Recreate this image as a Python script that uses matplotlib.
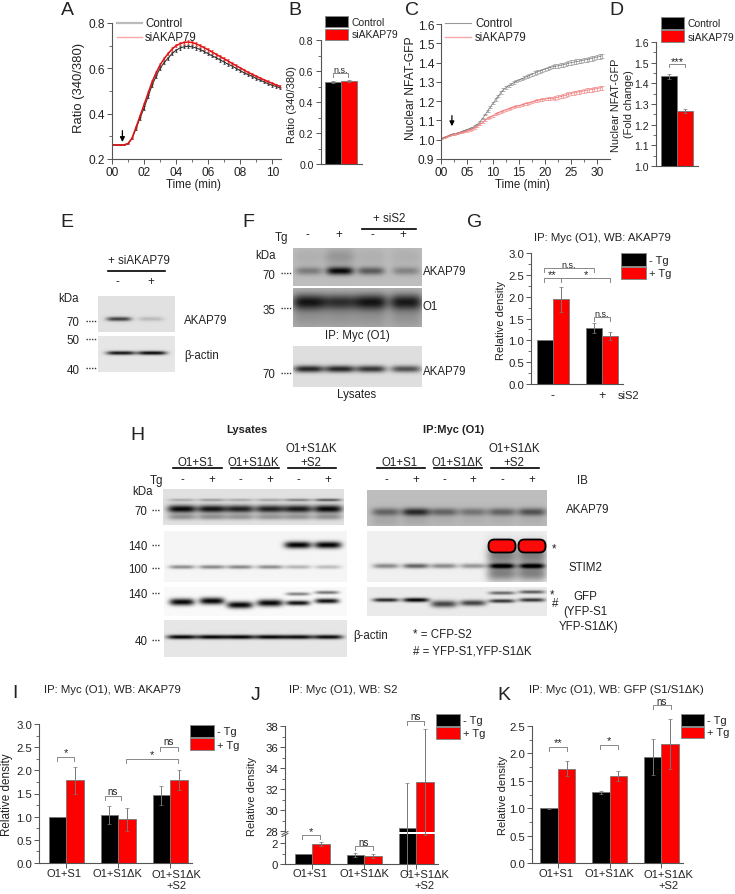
import numpy as np
import matplotlib
matplotlib.use("Agg")
import matplotlib.pyplot as plt
from matplotlib.patches import Rectangle, FancyBboxPatch

plt.rcParams["font.family"] = ["Liberation Sans", "DejaVu Sans"]
plt.rcParams["axes.linewidth"] = 0.8
plt.rcParams["axes.edgecolor"] = "#555555"
plt.rcParams["xtick.color"] = "#555555"
plt.rcParams["ytick.color"] = "#555555"
plt.rcParams["xtick.labelcolor"] = "#222222"
plt.rcParams["ytick.labelcolor"] = "#222222"
plt.rcParams["text.color"] = "#222222"

W, H = 735, 895

# panel A
a_time = [i * 0.25 for i in range(43)]
a_ctrl = [.262, .262, .262, .262, .268, .29, .335, .38, .425, .475, .525, .565, .60, .625, .645, .665,
          .68, .69, .695, .697, .695, .69, .683, .674, .665, .655, .647, .637, .628, .618, .61, .60,
          .59, .58, .572, .565, .555, .548, .54, .532, .525, .52, .513]
a_si = [.262, .262, .262, .262, .268, .292, .34, .39, .44, .49, .54, .58, .615, .642, .665, .685,
        .70, .709, .714, .716, .714, .708, .70, .691, .682, .672, .662, .652, .642, .632, .622, .612,
        .602, .592, .582, .574, .565, .557, .549, .541, .534, .527, .52]
a_ctrl_err = [.001, .001, .001, .001, .001, .003, .005, .006, .007, .007, .007, .007, .007, .007, .007, .007,
              .007, .007, .007, .007, .007, .007, .007, .007, .007, .007, .007, .007, .007, .007, .007, .007,
              .006, .006, .006, .006, .006, .006, .006, .006, .006, .006, .006]
a_si_err = [.001, .001, .001, .001, .001, .003, .005, .006, .007, .008, .008, .008, .008, .008, .008, .008,
            .008, .008, .008, .008, .008, .008, .008, .008, .008, .008, .007, .007, .007, .007, .007, .007,
            .006, .006, .006, .006, .006, .006, .006, .006, .006, .006, .006]

# panel B
b_vals = [.53, .535]
b_errs = [.005, .006]

# panel C
c_time = [i * 0.5 for i in range(63)]
c_ctrl = [1.005, 1.01, 1.015, 1.022, 1.028, 1.03, 1.033, 1.037, 1.042, 1.048, 1.053, 1.058, 1.063, 1.07, 1.08, 1.093,
          1.11, 1.13, 1.15, 1.17, 1.19, 1.208, 1.226, 1.245, 1.26, 1.27, 1.28, 1.288, 1.296, 1.303, 1.31, 1.316,
          1.321, 1.327, 1.333, 1.34, 1.346, 1.351, 1.356, 1.361, 1.366, 1.37, 1.375, 1.378, 1.381, 1.383, 1.386,
          1.389, 1.392, 1.396, 1.4, 1.402, 1.405, 1.407, 1.41, 1.413, 1.415, 1.418, 1.421, 1.425, 1.428, 1.431, 1.435]
c_si = [1.005, 1.01, 1.015, 1.02, 1.027, 1.03, 1.034, 1.037, 1.04, 1.042, 1.045, 1.05, 1.055, 1.062, 1.07, 1.08,
        1.09, 1.102, 1.112, 1.118, 1.125, 1.133, 1.14, 1.146, 1.151, 1.156, 1.16, 1.165, 1.17, 1.173, 1.176, 1.181,
        1.185, 1.188, 1.191, 1.196, 1.2, 1.203, 1.206, 1.209, 1.21, 1.213, 1.214, 1.215, 1.216, 1.22, 1.224,
        1.227, 1.23, 1.235, 1.24, 1.243, 1.245, 1.248, 1.25, 1.253, 1.256, 1.258, 1.26, 1.263, 1.265, 1.268, 1.27]
c_ctrl_err = [.003] * 12 + [.004] * 8 + [.006] * 12 + [.008] * 12 + [.011] * 19
c_si_err = [.003] * 12 + [.005] * 8 + [.005] * 12 + [.006] * 12 + [.01] * 19

# panel D
d_vals = [1.435, 1.268]
d_errs = [.012, .01]

# panel G
g_ctrl = [1.0, 1.28]
g_tg = [1.94, 1.1]
g_ctrl_err = [0, .12]
g_tg_err = [.28, .1]

# panel I
i_ctrl = [1.0, 1.04, 1.46]
i_tg = [1.79, .94, 1.79]
i_ctrl_err = [0, .2, .21]
i_tg_err = [.29, .25, .22]

# panel J
j_ctrl = [1.0, .85, 28.3]
j_tg = [1.9, .78, 32.7]
j_ctrl_err = [0, .2, 4.3]
j_tg_err = [.2, .2, 5.0]

# panel K
k_ctrl = [1.0, 1.29, 1.93]
k_tg = [1.72, 1.59, 2.17]
k_ctrl_err = [.01, .03, .33]
k_tg_err = [.14, .09, .46]

group_labels = ["O1+S1", "O1+S1\u0394K", "O1+S1\u0394K\n+S2"]

BAR_EDGE = "#777777"
ERR = "#777777"

fig = plt.figure(figsize=(W / 100, H / 100), dpi=100)


def panel(left, right, top, bottom, size=8.6):
    ax = fig.add_axes([left / W, 1 - bottom / H, (right - left) / W, (bottom - top) / H])
    ax.spines["top"].set_visible(False)
    ax.spines["right"].set_visible(False)
    ax.patch.set_alpha(0)
    ax.tick_params(which="major", length=3.5, width=0.7, labelsize=size, pad=1.5)
    ax.tick_params(which="minor", length=2, width=0.6)
    return ax


def err(ax, x, y, e):
    ebar = ax.errorbar(x, y, yerr=e, fmt="none", ecolor=ERR, elinewidth=0.7, capsize=1.2, capthick=0.5)
    for part in list(ebar[1]) + list(ebar[2]):
        part.set_clip_on(False)


def grouped(ax, ctrl, tg, ctrl_err, tg_err, width=0.336, errors=True):
    x = np.arange(len(ctrl))
    ax.bar(x - width / 2, ctrl, width, color="black", edgecolor=BAR_EDGE, linewidth=0.6)
    ax.bar(x + width / 2, tg, width, color="red", edgecolor=BAR_EDGE, linewidth=0.6)
    if errors:
        err(ax, x - width / 2, ctrl, ctrl_err)
        err(ax, x + width / 2, tg, tg_err)
    ax.set_xticks(x)
    ax.set_xticklabels([])


# A
ax = panel(112, 281, 24, 160)
ax.errorbar(a_time, a_ctrl, yerr=a_ctrl_err, color="#333333", lw=0.8, ecolor="#444444", elinewidth=0.9, capsize=1, capthick=0.6)
ax.errorbar(a_time, a_si, yerr=a_si_err, color="#e01010", lw=1.1, ecolor="#ee5050", elinewidth=0.9, capsize=1, capthick=0.6)
ax.set_xlim(0, 10.55)
ax.set_ylim(.2, .8)
ax.set_xticks(range(0, 11, 2))
ax.set_xticklabels(["00", "02", "04", "06", "08", "10"])
ax.set_xticks(range(1, 11, 2), minor=True)
ax.set_yticks([.2, .4, .6, .8])
ax.set_yticks([.3, .5, .7], minor=True)
ax.annotate("", xy=(.65, .275), xytext=(.65, .325), arrowprops=dict(arrowstyle="-|>", color="black", lw=0.9, mutation_scale=7, shrinkA=0, shrinkB=0))

# B
ax = panel(320.5, 362, 41, 165, 7.6)
ax.bar([0, 1], b_vals, 1, color=["black", "red"], edgecolor=BAR_EDGE, linewidth=0.6)
err(ax, [0, 1], b_vals, b_errs)
ax.set_xlim(-.78, 1.81)
ax.set_ylim(0, .8)
ax.set_xticks([])
ax.set_yticks([0, .2, .4, .6, .8])
ax.set_yticklabels(["0.0", "0.2", "0.4", "0.6", "0.8"])
ax.set_yticks([.1, .3, .5, .7], minor=True)

# C
ax = panel(441, 610, 25, 160)
ax.errorbar(c_time, c_ctrl, yerr=c_ctrl_err, color="#777777", lw=0.5, ecolor="#999999", elinewidth=0.5, capsize=1.3, capthick=0.5)
ax.errorbar(c_time, c_si, yerr=c_si_err, color="#f07070", lw=0.5, ecolor="#f59090", elinewidth=0.5, capsize=1.3, capthick=0.5)
ax.set_xlim(0, 32.5)
ax.set_ylim(.9, 1.6)
ax.set_xticks(range(0, 31, 5))
ax.set_xticklabels(["00", "05", "10", "15", "20", "25", "30"])
ax.set_yticks(np.arange(.9, 1.61, .1))
ax.set_xticks(np.arange(2.5, 31, 5), minor=True)
ax.annotate("", xy=(2.1, 1.07), xytext=(2.1, 1.125), arrowprops=dict(arrowstyle="-|>", color="black", lw=0.9, mutation_scale=7, shrinkA=0, shrinkB=0))

# D
ax = panel(656, 698, 43, 167, 7.6)
ax.bar([0, 1], d_vals, 1, color=["black", "red"], edgecolor=BAR_EDGE, linewidth=0.6)
err(ax, [0, 1], d_vals, d_errs)
ax.set_xlim(-.81, 1.81)
ax.set_ylim(1.0, 1.6)
ax.set_xticks([])
ax.set_yticks(np.arange(1.0, 1.61, .1))
ax.set_yticks(np.arange(1.05, 1.6, .1), minor=True)

# G
ax = panel(531, 623, 254, 385, 8.2)
grouped(ax, g_ctrl, g_tg, g_ctrl_err, g_tg_err)
ax.set_xlim(-.45, 1.43)
ax.set_ylim(0, 3)
ax.set_xticks([])
ax.set_yticks(np.arange(0, 3.1, .5))
ax.set_yticks(np.arange(.25, 3, .5), minor=True)

# I
ax = panel(39, 192, 725, 864, 8.2)
grouped(ax, i_ctrl, i_tg, i_ctrl_err, i_tg_err)
ax.set_xlim(-.52, 2.42)
ax.set_ylim(0, 3)
ax.set_yticks(np.arange(0, 3.1, .5))
ax.set_yticks(np.arange(.25, 3, .5), minor=True)

# J, broken axis
low = panel(285, 438, 835, 865, 8.2)
grouped(low, j_ctrl, j_tg, j_ctrl_err, j_tg_err, errors=False)
x_j = np.arange(2)
err(low, x_j - .168, j_ctrl[:2], j_ctrl_err[:2])
err(low, x_j + .168, j_tg[:2], j_tg_err[:2])
low.set_xlim(-.52, 2.42)
low.set_ylim(0, 2.86)
low.set_yticks([0, 2])
low.set_yticks([1], minor=True)
up = panel(285, 438, 727, 833, 8.2)
grouped(up, j_ctrl, j_tg, j_ctrl_err, j_tg_err, errors=False)
err(up, [2 - .168], [j_ctrl[2]], [j_ctrl_err[2]])
err(up, [2 + .168], [j_tg[2]], [j_tg_err[2]])
up.set_xlim(-.52, 2.42)
up.set_ylim(27.95, 38)
up.set_xticks([])
up.spines["bottom"].set_visible(False)
up.set_yticks(range(28, 39, 2))
up.set_yticks(range(29, 38, 2), minor=True)

# K
ax = panel(532, 683, 727, 864, 8.2)
grouped(ax, k_ctrl, k_tg, k_ctrl_err, k_tg_err)
ax.set_xlim(-.5, 2.42)
ax.set_ylim(0, 2.5)
ax.set_yticks(np.arange(0, 2.6, .5))
ax.set_yticks(np.arange(.25, 2.5, .5), minor=True)

# everything else goes on a full page layer in pixels
pg = fig.add_axes([0, 0, 1, 1])
pg.patch.set_alpha(0)
pg.axis("off")


def blot(box, bg, bands):
    x0, x1, y0, y1 = box
    xx, yy = np.meshgrid(np.arange(x0, x1) + .5, np.arange(y0, y1) + .5)
    img = np.full(xx.shape, float(bg))
    for cx, cy, w, h, s in bands:
        img -= s * np.exp(-((xx - cx) / (w / 2)) ** 4) * np.exp(-((yy - cy) / h) ** 2)
    pg.imshow(np.clip(img, 0, 1), extent=(x0, x1, y1, y0), cmap="gray", vmin=0, vmax=1,
              aspect="auto", interpolation="bilinear", zorder=1)


def row(xs, cy, w, h, levels):
    return [(x, cy, w, h, s) for x, s in zip(xs, levels)]


# E
blot((98, 175, 297, 333), .88, row([119, 151], 320, 25, 2.2, [.62, .15]))
blot((98, 175, 337, 373), .90, row([121, 152], 354, 29, 2.0, [.8, .85]))

# F
f_x = [309, 340, 371, 406]
blot((293, 422, 249, 287), .74, row(f_x, 272, 27, 4, [.25, .7, .38, .22]) + row(f_x, 258, 30, 9, [.05, .15, .05, .05]))
blot((293, 422, 289, 328), .70, row(f_x, 303, 33, 8, [.6, .5, .6, .58]) + row(f_x, 318, 33, 12, [.12, .12, .12, .12]))
blot((293, 422, 347, 388), .87, row(f_x, 370, 30, 3.5, [.72, .72, .66, .55]))

# H lysates
h_x = [182, 212, 240, 270, 298, 328]
blot((163, 344, 490, 526), .88, row(h_x, 510, 29, 4, [.85, .8, .75, .75, .78, .85]) + row(h_x, 501, 27, 1.5, [.2, .25, .2, .22, .35, .5])
     + row(h_x, 518, 29, 3, [.3, .3, .28, .28, .28, .3]))
blot((164, 347, 532, 583), .96, row(h_x[4:], 546, 27, 3.5, [.95, .95]) + row(h_x, 568, 26, 2, [.4, .42, .42, .4, .25, .22]))
blot((164, 347, 588, 617), .98, [(182, 603, 25, 3.5, .95), (212, 602, 25, 3.5, .95), (240, 606, 26, 3.5, .95), (270, 604, 26, 3.5, .95),
                                 (298, 604, 24, 2.5, .9), (327, 602, 24, 2.5, .9), (298, 595, 24, 1.8, .45), (327, 593.5, 24, 1.8, .5)])
blot((164, 347, 621, 658), .90, row(h_x, 638, 30, 2.2, [.88, .88, .88, .88, .85, .85]))

# H IP
p_x = [386, 416, 444, 473, 502, 532]
blot((367, 547, 491, 527), .74, row(p_x, 513, 28, 4, [.35, .58, .35, .28, .35, .42]) + row(p_x, 522, 28, 6, [.08, .08, .05, .05, .05, .05]))
blot((367, 547, 532, 583), .94, row(p_x, 567, 26, 2.5, [.4, .55, .4, .35, .7, .7]) + row(p_x[4:], 556, 30, 12, [.45, .45]) + row(p_x[4:], 575, 30, 8, [.4, .4]))
blot((367, 547, 588, 617), .92, [(386, 601, 26, 2, .75), (416, 601, 26, 2.2, .9), (444, 605, 26, 3.5, .65), (473, 604, 26, 3, .65),
                                 (502, 602, 26, 2, .7), (532, 601, 26, 2, .7), (502, 594, 26, 1.8, .5), (532, 593, 26, 1.8, .55)])
for cx in p_x[4:]:
    pg.add_patch(FancyBboxPatch((cx - 10.5, 543.5), 21, 7, boxstyle="round,pad=3,rounding_size=6", fc="#fb0a0a", ec="black", lw=1.3, zorder=3))


def t(x, y, s, size=8.3, ha="center", **kw):
    pg.text(x, y, s, fontsize=size, ha=ha, va="center", zorder=5, **kw)


def swatches(x0, x1, y0, y1, y2, y3):
    pg.add_patch(Rectangle((x0, y0), x1 - x0, y1 - y0, fc="black", ec="#888888", lw=0.7, zorder=4))
    pg.add_patch(Rectangle((x0, y2), x1 - x0, y3 - y2, fc="red", ec="#888888", lw=0.7, zorder=4))


def bracket(x0, x1, y, leg=4, label=None, label_y=None, size=6.5):
    pg.plot([x0, x0, x1, x1], [y + leg, y, y, y + leg], color="#888888", lw=0.7, zorder=4)
    if label:
        t((x0 + x1) / 2, label_y, label, size=size)


def dots(x0, x1, y):
    pg.plot([x0, x1], [y, y], color="#333333", lw=1, linestyle=(0, (1, 1)), zorder=4)


def rule(x0, x1, y):
    pg.plot([x0, x1], [y, y], color="black", lw=1.2, zorder=4)


# panel letters
for s, x, y in [("A", 67, 10), ("B", 295, 10), ("C", 412, 10), ("D", 616, 10), ("E", 67, 222), ("F", 248, 222),
                ("G", 475, 222), ("H", 137, 435), ("I", 15, 693), ("J", 256, 695), ("K", 504, 695)]:
    t(x, y, s, size=14)

# axis labels
t(79, 88, "Ratio (340/380)", size=9.4, rotation=90)
t(193, 185, "Time (min)")
t(292, 104, "Ratio (340/380)", size=8, rotation=90)
t(411, 88, "Nuclear NFAT-GFP", size=8.7, rotation=90)
t(522, 185, "Time (min)")
t(616, 105, "Nuclear NFAT-GFP", size=7.8, rotation=90)
t(629, 104, "(Fold change)", size=7.8, rotation=90)
t(501, 320, "Relative density", size=8, rotation=90)
t(7, 795, "Relative density", size=8.4, rotation=90)
t(252, 796, "Relative density", size=8, rotation=90)
t(503, 795, "Relative density", size=8, rotation=90)

# legends A, C
for x0, x1, xt in [(117, 142, 145), (445, 471, 475)]:
    lw = 1.6 if x0 == 117 else 0.8
    pg.plot([x0, x1], [24, 24], color="#bbbbbb" if x0 == 117 else "#999999", lw=lw, zorder=4)
    pg.plot([x0, x1], [38, 38], color="#f8a8a8", lw=1, zorder=4)
    t(xt, 24, "Control", ha="left")
    t(xt, 38, "siAKAP79", ha="left")

# legends B, D, G, I, J, K
swatches(325, 348, 17, 28, 30, 41)
t(352, 23, "Control", size=7.5, ha="left")
t(352, 35, "siAKAP79", size=7.5, ha="left")
swatches(661, 684, 18, 30, 31, 43)
t(688, 24, "Control", size=7.5, ha="left")
t(688, 38, "siAKAP79", size=7.5, ha="left")
swatches(621, 646, 254, 267, 268, 280)
t(649, 261, "- Tg", size=8, ha="left")
t(649, 274, "+ Tg", size=8, ha="left")
swatches(190, 214, 726, 738, 739, 751)
t(217, 732, "- Tg", size=8, ha="left")
t(217, 746, "+ Tg", size=8, ha="left")
swatches(436, 460, 715, 727, 728, 740)
t(463, 721, "- Tg", size=8, ha="left")
t(463, 734, "+ Tg", size=8, ha="left")
swatches(681, 704, 715, 727, 728, 739)
t(707, 721, "- Tg", size=8, ha="left")
t(707, 733, "+ Tg", size=8, ha="left")

# significance brackets
bracket(333, 348, 74, label="n.s.", label_y=70)
bracket(669, 685, 65, 3, "***", 62, 8)
bracket(544, 594, 269, label="n.s.", label_y=265)
bracket(544, 561, 279, label="**", label_y=275, size=8)
bracket(561, 610, 279, label="*", label_y=275, size=8)
bracket(594, 610, 318, label="n.s.", label_y=314)
bracket(57, 74, 758, label="*", label_y=753, size=8)
bracket(105, 121, 797, label="ns", label_y=792, size=7)
bracket(126, 178, 760, label="*", label_y=755, size=8)
bracket(160, 178, 748, label="ns", label_y=742, size=7)
bracket(302, 320, 836, label="*", label_y=832, size=8)
bracket(355, 373, 847, label="ns", label_y=843, size=7)
bracket(407, 424, 722, label="ns", label_y=717, size=7)
bracket(549, 567, 748, label="**", label_y=743, size=8)
bracket(600, 618, 746, label="*", label_y=741, size=8)
bracket(653, 671, 706, label="ns", label_y=702, size=7)

# axis break on J
pg.plot([282, 288], [835.5, 832.5], color="#555555", lw=0.7, zorder=4)
pg.plot([282, 288], [837.5, 834.5], color="#555555", lw=0.7, zorder=4)

# titles and group labels
t(602, 238, "IP: Myc (O1), WB: AKAP79", size=8.2)
t(44, 690, "IP: Myc (O1), WB: AKAP79", size=8.2, ha="left")
t(289, 690, "IP: Myc (O1), WB: S2", size=8.2, ha="left")
t(529, 690, "IP: Myc (O1), WB: GFP (S1/S1\u0394K)", size=8.2, ha="left")
t(553, 396, "-", size=9)
t(602, 396, "+", size=9)
t(629, 396, "siS2", size=8)
for xs in ([64, 117, 176], [310, 364, 424], [556, 609, 668]):
    for x, s in zip(xs, group_labels):
        t(x, 880.5 if "\n" in s else 874, s, size=8, linespacing=1.15)

# E labels
t(139, 261, "+ siAKAP79")
rule(108, 165, 272)
t(117, 282, "-")
t(151, 282, "+")
t(69, 299, "kDa")
for s, y, dy in [("70", 323, 322), ("50", 341, 340), ("40", 371, 369)]:
    t(73, y, s)
    dots(86, 97, dy)
t(184, 321, "AKAP79", ha="left")
t(184, 356, "\u03b2-actin", ha="left")

# F labels
t(389, 219, "+ siS2")
rule(362, 416, 230)
t(281, 238, "Tg")
for x, s in zip([307, 339, 372, 403], "-+-+"):
    t(x, 235, s)
t(266, 256, "kDa")
for s, y, dy in [("70", 276, 274), ("35", 311, 309), ("70", 375, 374)]:
    t(269, y, s)
    dots(281, 291, dy)
t(357, 336, "IP: Myc (O1)")
t(357, 395, "Lysates")
t(423, 272, "AKAP79", ha="left")
t(423, 307, "O1", ha="left")
t(423, 372, "AKAP79", ha="left")

# H labels
t(247, 430, "Lysates", weight="bold", size=8)
t(454, 430, "IP:Myc (O1)", weight="bold", size=8)
for top_x, xs, lines in [(311, [196, 253, 311], [(173, 222), (231, 279), (288, 336)]),
                         (514, [400, 457, 514], [(377, 425), (434, 482), (491, 539)])]:
    t(top_x, 449, "O1+S1\u0394K")
    for x, s in zip(xs, ["O1+S1", "O1+S1\u0394K", "+S2"]):
        t(x, 463, s)
    for x0, x1 in lines:
        rule(x0, x1, 469)
for x, s in zip(h_x + p_x, "-+-+-+-+-+-+"):
    t(x, 480, s)
t(156, 481, "Tg")
t(143, 492, "kDa")
t(582, 481, "IB")
for s, x, y in [("70", 141, 512), ("140", 138, 547), ("100", 138, 570), ("140", 138, 595), ("40", 141, 642)]:
    t(x, y, s)
    dots(152, 159, y - 1.5)
t(353, 636, "\u03b2-actin", ha="left")
t(566, 510, "AKAP79", ha="left")
t(569, 568, "STIM2", ha="left")
t(554, 549, "*")
t(552, 595, "*")
t(555, 604, "#")
t(585, 597, "GFP")
t(585, 612, "(YFP-S1")
t(589, 627, "YFP-S1\u0394K)")
t(413, 635, "* = CFP-S2", ha="left")
t(413, 651, "# = YFP-S1,YFP-S1\u0394K", ha="left")

pg.set_xlim(0, W)
pg.set_ylim(H, 0)

fig.savefig("out.png", dpi=100)
